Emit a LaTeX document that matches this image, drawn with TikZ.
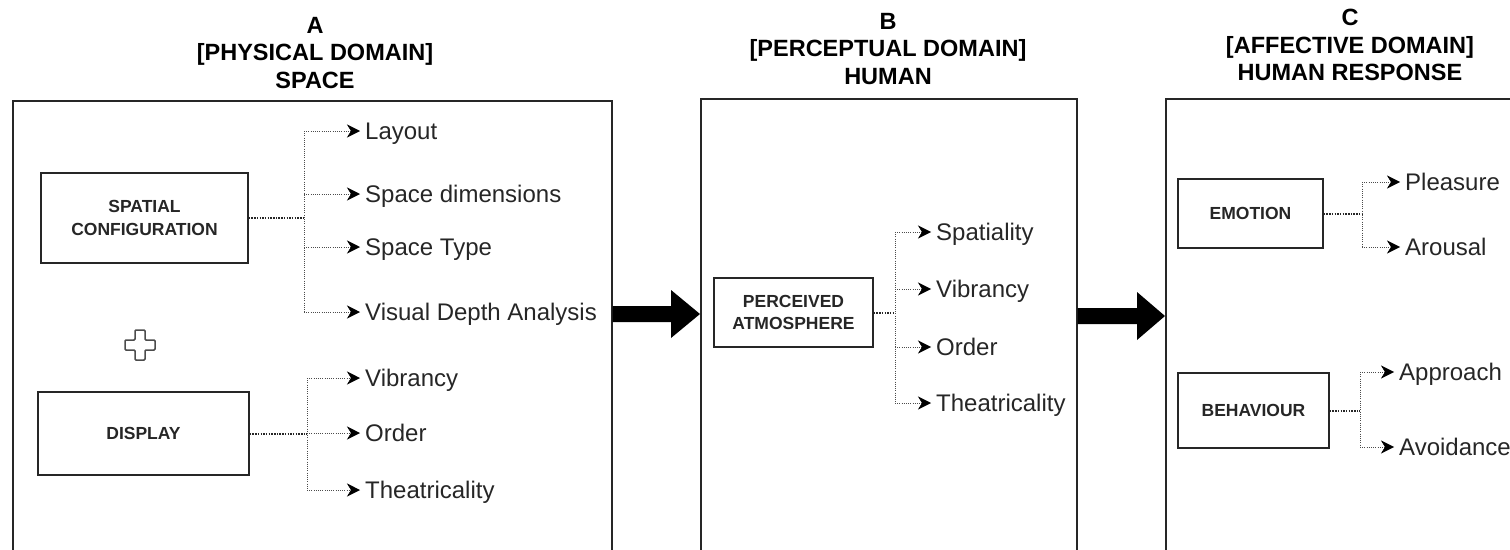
\documentclass[tikz,border=0pt]{standalone}
\usepackage{fontspec}
\setmainfont{Liberation Sans}
\usetikzlibrary{arrows.meta}
\begin{document}
\begin{tikzpicture}[x=1pt,y=-1pt,
  bigbox/.style={draw=black!85, line width=1.5pt, anchor=north west, inner sep=0pt},
  catbox/.style={draw=black!85, line width=1.5pt, inner sep=0pt, align=center, text=black!85, font=\fontsize{17.5}{22.5}\selectfont\bfseries},
  item/.style={anchor=west, inner sep=5pt, text height=17pt, text depth=0pt, text=black!85, font=\fontsize{24}{28}\selectfont},
  title/.style={align=center, text=black, font=\fontsize{23.5}{27.5}\selectfont\bfseries},
  trunk/.style={draw=black!70, line width=1pt, dash pattern=on 1pt off 1.2pt},
  feed/.style={draw=black!85, line width=2pt, dash pattern=on 1.5pt off 1.2pt},
  branch/.style={trunk, -{Stealth[length=13pt,width=13pt,inset=4pt,black,line width=0.5pt]}},
  bigarrow/.style={fill=black}
]
\useasboundingbox (0,0) rectangle (1510,549);
\clip (0,0) rectangle (1510,549);

% titles
\node[title] (ta) at (315,53) {A\\{[PHYSICAL DOMAIN]}\\SPACE};
\node[title] (tb) at (888,49) {B\\{[PERCEPTUAL DOMAIN]}\\HUMAN};
\node[title] (tc) at (1350,45) {C\\{[AFFECTIVE DOMAIN]}\\HUMAN RESPONSE};

% domain boxes
\node[bigbox, minimum width=599pt, minimum height=500pt] (A) at (12,100) {};
\node[bigbox, minimum width=376pt, minimum height=500pt] (B) at (700,98) {};
\node[bigbox, minimum width=400pt, minimum height=500pt] (C) at (1165,98) {};

% big arrows
\fill[bigarrow] (A.east |- 0,306) -- (671,306) -- (671,290) -- (B.west |- 0,314)
   -- (671,338) -- (671,322) -- (A.east |- 0,322) -- cycle;
\fill[bigarrow] (B.east |- 0,308) -- (1137,308) -- (1137,292) -- (C.west |- 0,316)
   -- (1137,340) -- (1137,324) -- (B.east |- 0,324) -- cycle;

% ---------- A ----------
\node[catbox, minimum width=207pt, minimum height=90pt] (sc) at (144.5,218) {SPATIAL\\CONFIGURATION};
\node[catbox, minimum width=211pt, minimum height=83pt] (disp) at (143.5,433.5) {DISPLAY};

\node[item] (lay)   at (360,131) {Layout};
\node[item] (sdim)  at (360,194) {Space dimensions};
\node[item] (stype) at (360,247) {Space Type};
\node[item] (vda)   at (360,312) {Visual Depth Analysis};
\node[item] (dvib)  at (360,378) {Vibrancy};
\node[item] (dord)  at (360,433) {Order};
\node[item] (dthe)  at (360,490) {Theatricality};

\coordinate (sb) at (304,218);
\draw[feed] (sc.east) -- (sb);
\draw[trunk] (sb |- lay.west) -- (sb |- vda.west);
\foreach \n in {lay,sdim,stype,vda} \draw[branch] (sb |- \n.west) -- (\n.west);

\coordinate (db) at (307,433.5);
\draw[feed] (disp.east) -- (db);
\draw[trunk] (db |- dvib.west) -- (db |- dthe.west);
\foreach \n in {dvib,dord,dthe} \draw[branch] (db |- \n.west) -- (\n.west);

% plus sign
\draw[line width=1.5pt, draw=black!70, rounded corners=1pt]
  (135,330) -- (145,330) -- (145,340) -- (155,340) -- (155,350) -- (145,350)
  -- (145,360) -- (135,360) -- (135,350) -- (125,350) -- (125,340) -- (135,340) -- cycle;

% ---------- B ----------
\node[catbox, minimum width=159pt, minimum height=69pt] (pa) at (793.5,312.5) {PERCEIVED\\ATMOSPHERE};
\node[item] (spa)  at (931,232) {Spatiality};
\node[item] (bvib) at (931,289) {Vibrancy};
\node[item] (bord) at (931,347) {Order};
\node[item] (bthe) at (931,403) {Theatricality};
\coordinate (pb) at (895,312.5);
\draw[feed] (pa.east) -- (pb);
\draw[trunk] (pb |- spa.west) -- (pb |- bthe.west);
\foreach \n in {spa,bvib,bord,bthe} \draw[branch] (pb |- \n.west) -- (\n.west);

% ---------- C ----------
\node[catbox, minimum width=145pt, minimum height=69pt] (emo) at (1250.5,213.5) {EMOTION};
\node[catbox, minimum width=151pt, minimum height=75pt] (beh) at (1253.5,410.5) {BEHAVIOUR};
\node[item] (ple) at (1400,182) {Pleasure};
\node[item] (aro) at (1400,247) {Arousal};
\node[item] (app) at (1394,372) {Approach};
\node[item] (avo) at (1394,447) {Avoidance};
\coordinate (eb) at (1362,213.5);
\draw[feed] (emo.east) -- (eb);
\draw[trunk] (eb |- ple.west) -- (eb |- aro.west);
\foreach \n in {ple,aro} \draw[branch] (eb |- \n.west) -- (\n.west);
\coordinate (bb) at (1360,410.5);
\draw[feed] (beh.east) -- (bb);
\draw[trunk] (bb |- app.west) -- (bb |- avo.west);
\foreach \n in {app,avo} \draw[branch] (bb |- \n.west) -- (\n.west);
\end{tikzpicture}
\end{document}
